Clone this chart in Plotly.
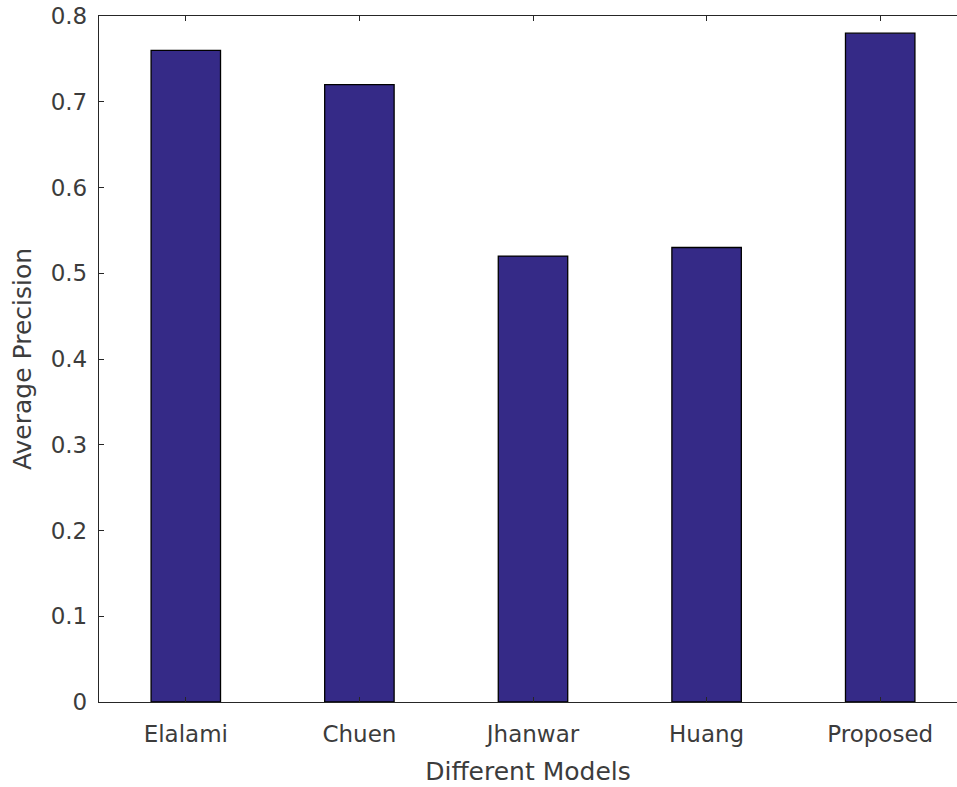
import plotly.graph_objects as go

categories = ["Elalami", "Chuen", "Jhanwar", "Huang", "Proposed"]
precision = [0.76, 0.72, 0.52, 0.53, 0.78]
y_ticks = [0, 0.1, 0.2, 0.3, 0.4, 0.5, 0.6, 0.7, 0.8]

x_pos = list(range(1, len(categories) + 1))

fig = go.Figure()
fig.add_trace(go.Bar(
    x=x_pos, y=precision, width=0.4,
    marker=dict(color="rgb(53,42,135)", line=dict(color="black", width=1.3)),
))

font = "DejaVu Sans, Arial, sans-serif"
fig.update_layout(
    width=957, height=787,
    margin=dict(l=99, r=0, t=16, b=85),
    paper_bgcolor="white", plot_bgcolor="white",
    showlegend=False,
    font=dict(family=font, color="#3c3c3c"),
    xaxis=dict(
        range=[0.5, 0.5 + 858 / 173.6],
        tickmode="array", tickvals=x_pos, ticktext=categories,
        ticks="inside", ticklen=5, tickcolor="#262626",
        showline=True, linecolor="#262626", linewidth=1.3, mirror="ticks",
        showgrid=False, zeroline=False,
        tickfont=dict(size=23),
        ticklabelstandoff=11,
        title=dict(text="Different Models", font=dict(size=25), standoff=16),
    ),
    yaxis=dict(
        range=[0, 0.8],
        tickmode="array", tickvals=y_ticks, ticktext=[f"{v:g}" for v in y_ticks],
        ticks="inside", ticklen=5, tickcolor="#262626",
        showline=True, linecolor="#262626", linewidth=1.3, mirror=False,
        showgrid=False, zeroline=False,
        tickfont=dict(size=23),
        ticklabelstandoff=6,
        ticklabeloverflow="allow",
        title=dict(text="Average Precision", font=dict(size=25), standoff=11),
    ),
)

fig.write_html("out.html", config={"displayModeBar": False},
               post_script="document.body.style.margin='0px';")
